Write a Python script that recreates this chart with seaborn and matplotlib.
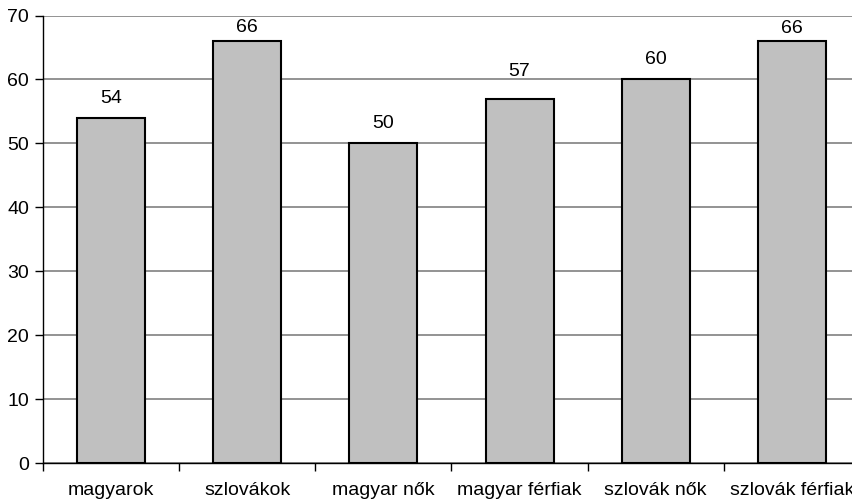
import matplotlib
matplotlib.use("Agg")
import matplotlib.pyplot as plt
import seaborn as sns
import pandas as pd
import numpy as np

categories = ["magyarok", "szlovákok", "magyar nők", "magyar férfiak", "szlovák nők", "szlovák férfiak"]
values = [54, 66, 50, 57, 60, 66]
y_ticks = [0, 10, 20, 30, 40, 50, 60, 70]

# vertical offset (points) of each value label above its bar
label_offsets = [8, 3.3, 8.4, 13.3, 8.2, 2.6]

sns.set_theme(style="white")
plt.rcParams["font.family"] = ["Liberation Sans", "DejaVu Sans"]
plt.rcParams["text.color"] = "black"
plt.rcParams["xtick.color"] = "black"
plt.rcParams["ytick.color"] = "black"

df = pd.DataFrame({"group": categories, "value": values})

fig = plt.figure(figsize=(8.53, 5.01), dpi=100)
W, H = 853, 501
ax = fig.add_axes([43 / W, (H - 463) / H, (860 - 43) / W, (463 - 15.5) / H])

sns.barplot(data=df, x="group", y="value", color="#c0c0c0", edgecolor="black",
            linewidth=1.5, width=0.5, saturation=1, ax=ax, zorder=3)

ax.set_xlim(-0.5, len(categories) - 0.5)
ax.set_ylim(0, 70)
ax.set_yticks(y_ticks)
ax.yaxis.grid(True, color="#808080", linewidth=1.2, zorder=0)
ax.set_axisbelow(True)
ax.set_xlabel("")
ax.set_ylabel("")

for side in ["top", "right"]:
    ax.spines[side].set_visible(False)
for side in ["left", "bottom"]:
    ax.spines[side].set_color("black")
    ax.spines[side].set_linewidth(1.0)

fs = 14
ax.tick_params(axis="y", which="major", length=6, width=1, color="black", labelcolor="black",
               labelsize=fs, pad=4, left=True)
ax.tick_params(axis="x", which="major", length=0, labelcolor="black", labelsize=fs, pad=14)
ax.set_xticks(np.arange(len(categories) + 1) - 0.5, minor=True)
ax.tick_params(axis="x", which="minor", length=6, width=1, color="black", bottom=True, direction="out")

for patch, v, off in zip(ax.patches, values, label_offsets):
    x = patch.get_x() + patch.get_width() / 2
    ax.annotate(str(v), xy=(x, v), xytext=(0, off), textcoords="offset points",
                ha="center", va="bottom", fontsize=fs, color="black", zorder=4)

fig.savefig("out.png", dpi=100)
